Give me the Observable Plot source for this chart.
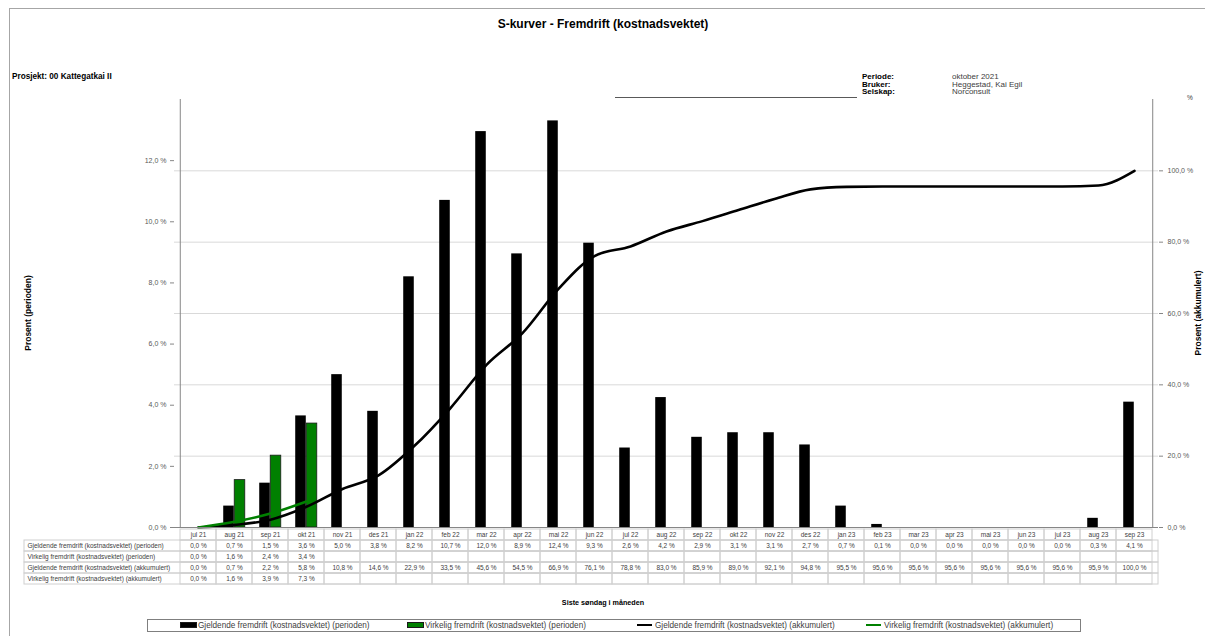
<!DOCTYPE html>
<html><head><meta charset="utf-8">
<script src="https://cdn.jsdelivr.net/npm/d3@7"></script>
<script src="https://cdn.jsdelivr.net/npm/@observablehq/plot@0.6"></script>
<style>
body{margin:0;background:#fff;}
#page{position:relative;width:1205px;height:636px;overflow:hidden;font-family:"Liberation Sans",Arial,sans-serif;color:#000;background:#fff;}
.abs{position:absolute;white-space:nowrap;line-height:1;}
.b{font-weight:bold;}
svg{position:absolute;left:0;overflow:visible;}
</style></head><body><div id="page"></div>
<script>
// ---------- data ----------
const months = ["jul 21","aug 21","sep 21","okt 21","nov 21","des 21","jan 22","feb 22","mar 22","apr 22","mai 22","jun 22","jul 22","aug 22","sep 22","okt 22","nov 22","des 22","jan 23","feb 23","mar 23","apr 23","mai 23","jun 23","jul 23","aug 23","sep 23"];
// bar heights as drawn (perioden)
const gjeldendePeriodeBar = [0.0,0.7,1.45,3.65,5.0,3.8,8.2,10.7,12.95,8.95,13.3,9.3,2.6,4.25,2.95,3.1,3.1,2.7,0.7,0.1,0.0,0.0,0.0,0.0,0.0,0.3,4.1];
const virkeligPeriodeBar = [0.0,1.55,2.35,3.4];
// table values
const gjeldendePeriode = [0.0,0.7,1.5,3.6,5.0,3.8,8.2,10.7,12.0,8.9,12.4,9.3,2.6,4.2,2.9,3.1,3.1,2.7,0.7,0.1,0.0,0.0,0.0,0.0,0.0,0.3,4.1];
const virkeligPeriode = [0.0,1.6,2.4,3.4];
const gjeldendeAkk = [0.0,0.7,2.2,5.8,10.8,14.6,22.9,33.5,45.6,54.5,66.9,76.1,78.8,83.0,85.9,89.0,92.1,94.8,95.5,95.6,95.6,95.6,95.6,95.6,95.6,95.9,100.0];
const virkeligAkk = [0.0,1.6,3.9,7.3];
const rowLabels = ["Gjeldende fremdrift (kostnadsvektet) (perioden)","Virkelig fremdrift (kostnadsvektet) (perioden)","Gjeldende fremdrift (kostnadsvektet) (akkumulert)","Virkelig fremdrift (kostnadsvektet) (akkumulert)"];
const leftTicks = [0,2,4,6,8,10,12];
const rightTicks = [0,20,40,60,80,100];
const leftMax = 14, rightMax = 120;

// ---------- layout ----------
const W = 1205, L = 174, R = 1158;
const bw = (R - L) / months.length;
const k = leftMax / rightMax;
const fmt = d => (Math.round(d * 10) / 10).toFixed(1).replace(".", ",") + " %";
const FONT = '"Liberation Sans",Arial,sans-serif';
const page = document.getElementById("page");

function addText(txt, x, y, opts = {}) {
  const d = document.createElement("div");
  d.className = "abs" + (opts.bold ? " b" : "");
  d.textContent = txt;
  d.style.left = x + "px"; d.style.top = y + "px";
  d.style.fontSize = (opts.size || 7) + "px";
  if (opts.color) d.style.color = opts.color;
  if (opts.center) d.style.transform = "translateX(-50%)";
  if (opts.rotate) { d.style.transform = "translate(-50%,-50%) rotate(-90deg)"; }
  page.appendChild(d);
  return d;
}
function addBox(x, y, w, h, css) {
  const d = document.createElement("div");
  d.className = "abs";
  Object.assign(d.style, {left: x + "px", top: y + "px", width: w + "px", height: h + "px"}, css);
  page.appendChild(d);
  return d;
}

// page frame
addBox(9, 8, 1300, 700, {borderLeft: "1px solid #a6a6a6", borderTop: "1px solid #a6a6a6"});

// ---------- chart ----------
const barG = months.map((m, i) => ({m, v: gjeldendePeriodeBar[i]}));
const barV = virkeligPeriodeBar.map((v, i) => ({m: months[i], v}));
const lineG = months.map((m, i) => ({m, v: gjeldendeAkk[i] * k}));
const lineV = virkeligAkk.map((v, i) => ({m: months[i], v: v * k}));
const bar = 11;

const chart = Plot.plot({
  width: W, height: 540,
  marginLeft: L, marginRight: W - R, marginTop: 99, marginBottom: 13,
  style: {fontFamily: FONT, fontSize: "7px", color: "#595959", background: "transparent", overflow: "visible"},
  x: {type: "band", domain: months, padding: 0, axis: null},
  y: {domain: [0, leftMax], axis: null},
  marks: [
    Plot.gridY(rightTicks.filter(v => v > 0).map(v => v * k), {stroke: "#d9d9d9", strokeOpacity: 1, strokeWidth: 1}),
    Plot.axisY(leftTicks, {anchor: "left", label: null, tickSize: 4, tickPadding: 4, tickFormat: fmt, stroke: "#868686", fill: "#595959"}),
    Plot.axisY(rightTicks.map(v => v * k), {anchor: "right", label: null, tickSize: 4, tickPadding: 5, tickFormat: d => fmt(d / k), stroke: "#868686", fill: "#595959"}),
    Plot.barY(barG, {x: "m", y: "v", fill: "#000", insetLeft: bw / 2 - bar, insetRight: bw / 2}),
    Plot.barY(barV, {x: "m", y: "v", fill: "#008000", stroke: "#1a1a1a", strokeWidth: 0.8, insetLeft: bw / 2, insetRight: bw / 2 - bar}),
    Plot.line(lineG, {x: "m", y: "v", stroke: "#000", strokeWidth: 2.6, curve: "monotone-x"}),
    Plot.line(lineV, {x: "m", y: "v", stroke: "#008000", strokeWidth: 2.6, curve: "monotone-x"}),
    Plot.ruleX([months[0]], {dx: -bw / 2, stroke: "#868686", strokeWidth: 1}),
    Plot.ruleX([months[months.length - 1]], {dx: bw / 2, stroke: "#868686", strokeWidth: 1}),
    Plot.ruleY([0], {stroke: "#868686", strokeWidth: 1})
  ]
});
chart.style.top = "0px";
page.appendChild(chart);

// ---------- table ----------
const rows = ["hdr", "r0", "r1", "r2", "r3"];
const rowVals = [gjeldendePeriode, virkeligPeriode, gjeldendeAkk, virkeligAkk];
const cells = [];
months.forEach((m, i) => cells.push({m, r: "hdr", t: m}));
rowVals.forEach((arr, j) => months.forEach((m, i) => cells.push({m, r: rows[j + 1], t: i < arr.length ? fmt(arr[i]) : ""})));
const labels = rowLabels.map((t, j) => ({r: rows[j + 1], t}));

const table = Plot.plot({
  width: W, height: 60,
  marginLeft: 24, marginRight: W - R, marginTop: 0, marginBottom: 2,
  style: {fontFamily: FONT, fontSize: "6.5px", color: "#404040", background: "transparent", overflow: "visible"},
  x: {type: "band", domain: months, range: [L, R], padding: 0, axis: null},
  y: {type: "band", domain: rows, range: [0, 58], padding: 0, axis: null},
  marks: [
    Plot.cell(labels, {y: "r", fill: "none", stroke: "#d0d0d0"}),
    Plot.cell(cells, {x: "m", y: "r", fill: "none", stroke: "#d0d0d0"}),
    Plot.text(cells, {x: "m", y: "r", text: "t", fill: "#404040"}),
    Plot.text(labels, {y: "r", text: "t", frameAnchor: "left", dx: 3, textAnchor: "start", fill: "#404040"})
  ]
});
table.style.top = "527px";
page.appendChild(table);

// ---------- texts ----------
addText("S-kurver - Fremdrift (kostnadsvektet)", 603, 18, {bold: true, size: 12, center: true});
addText("Prosjekt: 00 Kattegatkai II", 12, 73, {bold: true, size: 8.2});
addText("Periode:", 862, 73, {bold: true, size: 8});
addText("Bruker:", 862, 80.5, {bold: true, size: 8});
addText("Selskap:", 862, 88, {bold: true, size: 8});
addText("oktober 2021", 952, 73, {size: 8, color: "#404040"});
addText("Heggestad, Kai Egil", 952, 80.5, {size: 8, color: "#404040"});
addText("Norconsult", 952, 88, {size: 8, color: "#404040"});
addText("%", 1187, 95, {size: 6.5, color: "#404040"});
addBox(615, 97, 242, 0, {borderTop: "1px solid #595959"});
addText("Prosent (perioden)", 28, 313, {bold: true, size: 8.5, rotate: true});
addText("Prosent (akkumulert)", 1198, 313, {bold: true, size: 8.5, rotate: true});
addText("Siste søndag i måneden", 603, 599, {bold: true, size: 7.2, center: true});

// ---------- legend ----------
addBox(147, 619, 934, 13, {border: "1px solid #7f7f7f", boxSizing: "border-box"});
const legend = [
  {t: rowLabels[0], x: 180, kind: "rect", c: "#000"},
  {t: rowLabels[1], x: 407, kind: "rect", c: "#008000"},
  {t: rowLabels[2], x: 637, kind: "line", c: "#000"},
  {t: rowLabels[3], x: 866, kind: "line", c: "#008000"}
];
legend.forEach(it => {
  if (it.kind === "rect") addBox(it.x, 622, 17, 6, {background: it.c, border: "0.5px solid #1a1a1a", boxSizing: "border-box"});
  else addBox(it.x, 624, 15, 2, {background: it.c});
  addText(it.t, it.x + 18, 621.5, {size: 8.2, color: "#404040"});
});
</script></body></html>
